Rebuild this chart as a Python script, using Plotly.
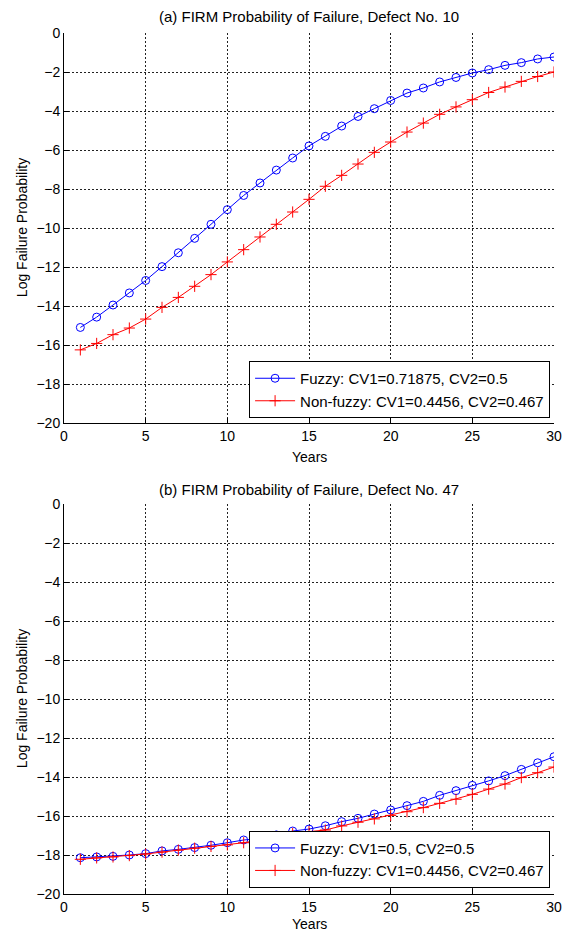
import plotly.graph_objects as go

years = list(range(1, 31))

# (a) Defect No. 10
fuzzy_a = [-15.10, -14.57, -13.95, -13.33, -12.69, -11.98, -11.27, -10.53, -9.81, -9.06,
           -8.33, -7.69, -7.03, -6.41, -5.79, -5.30, -4.77, -4.28, -3.88, -3.46,
           -3.08, -2.82, -2.51, -2.28, -2.05, -1.88, -1.66, -1.52, -1.33, -1.23]
nonfuzzy_a = [-16.25, -15.92, -15.47, -15.13, -14.67, -14.07, -13.56, -12.99, -12.39, -11.74,
              -11.11, -10.46, -9.81, -9.18, -8.53, -7.86, -7.30, -6.72, -6.12, -5.59,
              -5.08, -4.62, -4.17, -3.79, -3.42, -3.05, -2.77, -2.48, -2.23, -2.00]

# (b) Defect No. 47
fuzzy_b = [-18.14, -18.10, -18.07, -18.00, -17.93, -17.79, -17.71, -17.62, -17.50, -17.37,
           -17.23, -17.16, -16.97, -16.77, -16.67, -16.50, -16.29, -16.12, -15.90, -15.69,
           -15.47, -15.25, -14.94, -14.70, -14.43, -14.20, -13.93, -13.61, -13.27, -12.96]
nonfuzzy_b = [-18.22, -18.15, -18.10, -18.03, -17.95, -17.85, -17.75, -17.65, -17.56, -17.48,
              -17.37, -17.23, -17.06, -16.89, -16.80, -16.72, -16.51, -16.32, -16.15, -15.97,
              -15.78, -15.57, -15.35, -15.14, -14.89, -14.62, -14.36, -14.03, -13.78, -13.49]

titles = ["(a) FIRM Probability of Failure, Defect No. 10",
          "(b) FIRM Probability of Failure, Defect No. 47"]
legend_names_a = ["Fuzzy: CV1=0.71875, CV2=0.5", "Non-fuzzy: CV1=0.4456, CV2=0.467"]
legend_names_b = ["Fuzzy: CV1=0.5, CV2=0.5", "Non-fuzzy: CV1=0.4456, CV2=0.467"]
x_ticks = [0, 5, 10, 15, 20, 25, 30]
y_ticks = list(range(-20, 1, 2))

FONT = "Liberation Sans, Arial, sans-serif"
BLUE = "#0000ff"
RED = "#ff0000"

fig = go.Figure()

def add_pair(fz, nf, names, xa, ya, leg):
    fig.add_trace(go.Scatter(
        x=years, y=fz, name=names[0], mode="lines+markers",
        line=dict(color=BLUE, width=1),
        marker=dict(symbol="circle-open", size=8, color=BLUE, line=dict(width=1, color=BLUE)),
        xaxis=xa, yaxis=ya, legend=leg))
    fig.add_trace(go.Scatter(
        x=years, y=nf, name=names[1], mode="lines+markers",
        line=dict(color=RED, width=1),
        marker=dict(symbol="cross-thin-open", size=8, color=RED, line=dict(width=1, color=RED)),
        xaxis=xa, yaxis=ya, legend=leg))

add_pair(fuzzy_a, nonfuzzy_a, legend_names_a, "x", "y", "legend")
add_pair(fuzzy_b, nonfuzzy_b, legend_names_b, "x2", "y2", "legend2")

axis_common = dict(
    showline=True, linecolor="#000000", linewidth=1, mirror=False,
    ticks="inside", ticklen=5, tickcolor="#000000",
    showgrid=True, gridcolor="#222222", gridwidth=1, griddash="2px,2px",
    zeroline=False, tickfont=dict(family=FONT, size=14, color="#000000"),
)

# page has an 8px body margin; figure is sized so the plot areas land
# at page x 64..559, y 33..423 (top) and 504..894 (bottom)
top_dom = [471 / 861, 1.0]
bot_dom = [0.0, 390 / 861]

legend_common = dict(xanchor="right", yanchor="bottom", bgcolor="white",
                     bordercolor="#000000", borderwidth=1, itemwidth=40,
                     font=dict(family=FONT, size=15, color="#000000"), tracegroupgap=0)

fig.update_layout(
    width=566, height=925,
    margin=dict(l=56, r=15, t=25, b=39),
    paper_bgcolor="white", plot_bgcolor="white",
    font=dict(family=FONT, size=14, color="#000000"),
    xaxis=dict(domain=[0, 1], anchor="y", range=[0, 30], tickvals=x_ticks, **axis_common),
    yaxis=dict(domain=top_dom, anchor="x", range=[-20, 0], tickvals=y_ticks, **axis_common),
    xaxis2=dict(domain=[0, 1], anchor="y2", range=[0, 30], tickvals=x_ticks, **axis_common),
    yaxis2=dict(domain=bot_dom, anchor="x2", range=[-20, 0], tickvals=y_ticks, **axis_common),
    legend=dict(x=0.992, y=(894 - 418) / 861, **legend_common),
    legend2=dict(x=0.992, y=(894 - 887.7) / 861, **legend_common),
    showlegend=True,
)

ann = []
for t, yp in zip(titles, [(894 - 16.7) / 861, (894 - 489.3) / 861]):
    ann.append(dict(text=t, x=0.5, y=yp, xref="paper", yref="paper",
                    xanchor="center", yanchor="middle", showarrow=False,
                    font=dict(family=FONT, size=15)))
for yp in [(894 - 457) / 861, (894 - 924) / 861]:
    ann.append(dict(text="Years", x=0.5, y=yp, xref="paper", yref="paper",
                    xanchor="center", yanchor="middle", showarrow=False,
                    font=dict(family=FONT, size=14)))
for yp in [(894 - 228) / 861, (894 - 699) / 861]:
    ann.append(dict(text="Log Failure Probability", x=(21.7 - 64) / 495, y=yp,
                    xref="paper", yref="paper", textangle=-90,
                    xanchor="center", yanchor="middle", showarrow=False,
                    font=dict(family=FONT, size=14)))
fig.update_layout(annotations=ann)

fig.write_html("out.html")
